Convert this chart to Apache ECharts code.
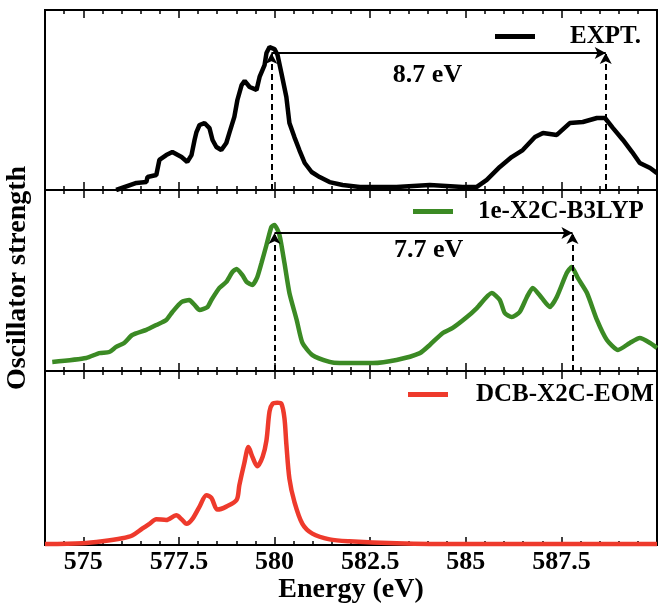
<!DOCTYPE html>
<html>
<head>
<meta charset="utf-8">
<script src="https://cdn.jsdelivr.net/npm/echarts@6/dist/echarts.min.js"></script>
<style>html,body{margin:0;padding:0;background:#fff}#c{width:658px;height:605px}</style>
</head>
<body>
<div id="c"></div>
<script>
// ---- data ----
const exptE = [575.86,576.39,576.65,576.68,576.91,576.99,577.17,577.33,577.57,577.72,577.83,577.91,577.96,578.04,578.17,578.30,578.38,578.48,578.61,578.74,578.82,578.95,579.03,579.14,579.22,579.35,579.53,579.61,579.74,579.79,579.87,580.00,580.08,580.18,580.31,580.39,580.52,580.65,580.79,580.97,581.18,581.44,581.78,582.23,583.19,584.06,584.92,585.29,585.55,585.89,586.20,586.49,586.81,587.02,587.38,587.72,588.06,588.43,588.64,588.85,589.11,589.35,589.55,589.82,590.0];
const exptI = [0,0.039,0.044,0.072,0.083,0.167,0.194,0.211,0.183,0.156,0.194,0.278,0.322,0.361,0.372,0.344,0.278,0.239,0.222,0.261,0.317,0.406,0.5,0.583,0.606,0.572,0.556,0.628,0.694,0.761,0.794,0.783,0.75,0.65,0.517,0.372,0.294,0.222,0.15,0.1,0.072,0.044,0.028,0.017,0.017,0.028,0.017,0.017,0.056,0.128,0.183,0.222,0.294,0.317,0.306,0.372,0.378,0.4,0.4,0.344,0.278,0.211,0.15,0.122,0.094];

const b3lypE = [574.19,575.08,575.42,575.68,575.86,576.07,576.28,576.65,576.91,577.17,577.33,577.57,577.77,577.91,578.04,578.25,578.35,578.56,578.74,578.90,579.01,579.16,579.27,579.42,579.55,579.66,579.79,579.92,580.00,580.13,580.26,580.39,580.58,580.73,580.99,581.44,581.70,582.57,583.19,583.80,584.06,584.40,584.66,585.03,585.29,585.68,585.89,586.02,586.20,586.41,586.60,586.75,586.99,587.20,587.38,587.64,587.77,587.93,588.17,588.43,588.69,588.98,589.29,589.55,589.82,590.0];
const b3lypI = [0.05,0.072,0.099,0.105,0.133,0.155,0.199,0.227,0.254,0.282,0.326,0.381,0.392,0.365,0.337,0.354,0.392,0.459,0.492,0.547,0.564,0.530,0.492,0.475,0.519,0.597,0.696,0.796,0.807,0.751,0.597,0.431,0.282,0.155,0.088,0.05,0.044,0.044,0.061,0.099,0.144,0.210,0.238,0.298,0.348,0.431,0.392,0.320,0.298,0.326,0.409,0.459,0.403,0.354,0.409,0.541,0.575,0.514,0.431,0.282,0.171,0.116,0.155,0.182,0.155,0.127];

const eomE = [574.0,574.97,575.50,576.02,576.28,576.54,576.73,576.91,577.17,577.43,577.57,577.70,577.85,578.04,578.22,578.35,578.51,578.74,579.01,579.08,579.21,579.32,579.42,579.55,579.69,579.79,579.87,579.95,580.07,580.18,580.26,580.31,580.39,580.52,580.73,580.99,581.44,581.96,583.19,584.92,590.0];
const eomI = [0.006,0.011,0.022,0.039,0.055,0.094,0.122,0.149,0.144,0.171,0.149,0.122,0.149,0.221,0.287,0.271,0.204,0.221,0.260,0.343,0.470,0.564,0.508,0.453,0.508,0.602,0.768,0.812,0.818,0.812,0.729,0.580,0.381,0.249,0.122,0.066,0.033,0.022,0.011,0.006,0.006];

const seriesNames = ['EXPT.', '1e-X2C-B3LYP', 'DCB-X2C-EOM'];
const majorTicks = [575, 577.5, 580, 582.5, 585, 587.5];
const tickLabels = ['575', '577.5', '580', '582.5', '585', '587.5'];
const minorTicks = [574.5,575,575.5,576,576.5,577,577.5,578,578.5,579,579.5,580,580.5,581,581.5,582,582.5,583,583.5,584,584.5,585,585.5,586,586.5,587,587.5,588,588.5,589,589.5];

// shift annotations: [left peak energy, right peak energy], arrow height, label text & position
const exptArrowX = [579.92, 588.66];
const exptArrowY = 0.761;
const exptShiftLabel = ['8.7 eV', 584.0, 0.639];
const b3lypArrowX = [580.0, 587.79];
const b3lypArrowY = 0.762;
const b3lypShiftLabel = ['7.7 eV', 584.03, 0.669];

const xName = 'Energy (eV)';
const yName = 'Oscillator strength';

// ---- chart ----
const FONT = '"Liberation Serif", "Times New Roman", serif';
const zip = (a, b) => a.map((v, i) => [v, b[i]]);

function xAxes(gi, isLast) {
  const base = {
    type: 'value', gridIndex: gi, min: 574, max: 590,
    axisLine: { show: false }, splitLine: { show: false }
  };
  const mk = (pos, ticks, len, label) => Object.assign({}, base, {
    position: pos,
    axisTick: { show: true, inside: true, length: len, customValues: ticks, lineStyle: { color: '#000', width: 1.5 } },
    axisLabel: label ? {
      show: true, customValues: majorTicks, margin: 4,
      formatter: v => tickLabels[majorTicks.indexOf(v)] ?? '',
      color: '#000', fontFamily: FONT, fontWeight: 'bold', fontSize: 26
    } : { show: false }
  });
  const axes = [
    mk('bottom', majorTicks, 8, isLast),
    mk('bottom', minorTicks, 4, false),
    mk('top', majorTicks, 8, false),
    mk('top', minorTicks, 4, false)
  ];
  if (isLast) {
    Object.assign(axes[0], {
      name: xName, nameLocation: 'middle', nameGap: 27,
      nameTextStyle: { color: '#000', fontFamily: FONT, fontWeight: 'bold', fontSize: 28 }
    });
  }
  return axes;
}

function arrows(xs, y) {
  const dashed = { type: [6, 4], width: 2, color: '#000' };
  const solid = { type: 'solid', width: 1.8, color: '#000' };
  return {
    silent: true, symbol: ['none', 'arrow'], symbolSize: [9, 11],
    label: { show: false }, animation: false,
    data: [
      [{ coord: [xs[0], 0], lineStyle: dashed }, { coord: [xs[0], y] }],
      [{ coord: [xs[1], 0], lineStyle: dashed }, { coord: [xs[1], y] }],
      [{ coord: [xs[0], y], lineStyle: solid }, { coord: [xs[1], y] }]
    ]
  };
}

function shiftLabel(gi, l) {
  return {
    type: 'scatter', xAxisIndex: gi * 4, yAxisIndex: gi, symbolSize: 0, silent: true,
    itemStyle: { opacity: 1 },
    data: [[l[1], l[2]]],
    label: { show: true, position: 'inside', formatter: l[0], color: '#000', opacity: 1, textBorderWidth: 0,
      fontFamily: FONT, fontWeight: 'bold', fontSize: 26 }
  };
}

const grids = [
  { left: 45, width: 612, top: 10, height: 180 },
  { left: 45, width: 612, top: 190, height: 181 },
  { left: 45, width: 612, top: 371, height: 181 }
].map(g => Object.assign(g, { show: true, borderColor: '#000', borderWidth: 2, backgroundColor: 'transparent', containLabel: false }));

const legendBase = {
  orient: 'horizontal', padding: 0, icon: 'rect', itemWidth: 40, itemHeight: 5, selectedMode: false
};
const legendText = pad => ({ color: '#000', fontFamily: FONT, fontWeight: 'bold', fontSize: 25, padding: [0, 0, 0, pad] });

const option = {
  animation: false,
  backgroundColor: '#fff',
  grid: grids,
  xAxis: [].concat(xAxes(0, false), xAxes(1, false), xAxes(2, true)),
  yAxis: [0, 1, 2].map(i => ({ type: 'value', gridIndex: i, min: 0, max: 1, show: false })),
  legend: [
    Object.assign({}, legendBase, { data: [seriesNames[0]], left: 495, top: 24, textStyle: legendText(30) }),
    Object.assign({}, legendBase, { data: [seriesNames[1]], left: 413, top: 199, textStyle: legendText(20) }),
    Object.assign({}, legendBase, { data: [seriesNames[2]], left: 408, top: 382, textStyle: legendText(23) })
  ],
  graphic: [{
    type: 'text', x: 18, y: 278, rotation: Math.PI / 2,
    style: { text: yName, textAlign: 'center', textVerticalAlign: 'middle', fill: '#000', font: 'bold 28px ' + FONT }
  }],
  series: [
    { type: 'line', name: seriesNames[0], xAxisIndex: 0, yAxisIndex: 0, data: zip(exptE, exptI), showSymbol: false,
      lineStyle: { color: '#000', width: 4.5 }, itemStyle: { color: '#000' }, z: 3, markLine: arrows(exptArrowX, exptArrowY) },
    { type: 'line', name: seriesNames[1], xAxisIndex: 4, yAxisIndex: 1, data: zip(b3lypE, b3lypI), showSymbol: false, smooth: 0.2,
      lineStyle: { color: '#3b8a24', width: 4.5 }, itemStyle: { color: '#3b8a24' }, z: 3, markLine: arrows(b3lypArrowX, b3lypArrowY) },
    { type: 'line', name: seriesNames[2], xAxisIndex: 8, yAxisIndex: 2, data: zip(eomE, eomI), showSymbol: false, smooth: 0.3,
      lineStyle: { color: '#ee3a2c', width: 4.5 }, itemStyle: { color: '#ee3a2c' }, z: 3 },
    shiftLabel(0, exptShiftLabel),
    shiftLabel(1, b3lypShiftLabel)
  ]
};

const chart = echarts.init(document.getElementById('c'), null, { renderer: 'canvas' });
chart.setOption(option);
</script>
</body>
</html>
